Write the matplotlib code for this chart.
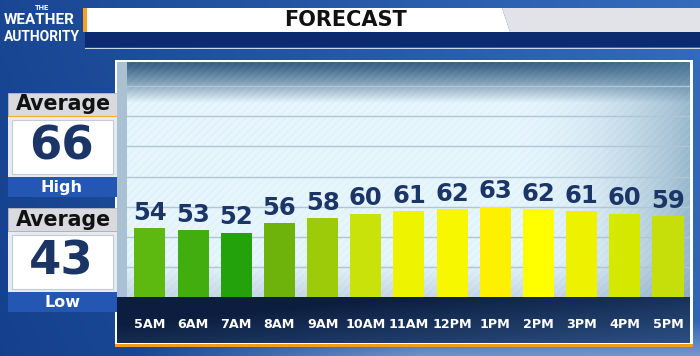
import numpy as np
import matplotlib.pyplot as plt
from matplotlib.patches import Rectangle, Polygon
from matplotlib.transforms import blended_transform_factory

# data
hours = ['5AM', '6AM', '7AM', '8AM', '9AM', '10AM', '11AM',
         '12PM', '1PM', '2PM', '3PM', '4PM', '5PM']
temps = [54, 53, 52, 56, 58, 60, 61, 62, 63, 62, 61, 60, 59]
bar_colors = ['#5db80f', '#42ad0e', '#23a20b', '#6db30b', '#9dcb0a', '#c9e30a',
              '#eef400', '#f7f700', '#fdf000', '#ffff00', '#edf200', '#d5e900', '#c6df0a']
avg_high = 66
avg_low = 43

W, H = 700, 356
NAVY = '#1b3566'

fig = plt.figure(figsize=(7, 3.56), dpi=100)
bg = fig.add_axes([0, 0, 1, 1])
bg.set_xlim(0, W)
bg.set_ylim(H, 0)
bg.axis('off')

# blue backdrop
X, Y = np.meshgrid(np.linspace(0, 1, 350), np.linspace(0, 1, 178))
dark = np.array([0.08, 0.25, 0.55])
light = np.array([0.22, 0.44, 0.76])
t = np.clip(0.75 * X + 0.15 * (1 - Y), 0, 1)[..., None]
img = dark * (1 - t) + light * t
sky = np.clip((Y - 0.9) / 0.1, 0, 1) * np.clip((X - 0.2) / 0.4, 0, 1)
img = img * (1 - 0.6 * sky[..., None]) + np.array([0.62, 0.72, 0.86]) * 0.6 * sky[..., None]
bg.imshow(img, extent=[0, W, H, 0], aspect='auto', zorder=0)

# header
bg.add_patch(Polygon([(87, 8), (502, 8), (510, 32), (87, 32)], closed=True,
                     facecolor='white', edgecolor='none', zorder=2))
bg.add_patch(Polygon([(502, 8), (700, 8), (700, 32), (510, 32)], closed=True,
                     facecolor='#e2e3e8', edgecolor='none', zorder=2))
bg.add_patch(Rectangle((83, 8), 4, 24, facecolor='#f5a020', zorder=3))
bg.add_patch(Rectangle((85, 32), 615, 15, facecolor='#0b2a6f', zorder=2))
bg.add_patch(Rectangle((85, 47.5), 615, 1.2, facecolor='#c9d6ea', zorder=2))
bg.text(345, 20.5, 'FORECAST', ha='center', va='center', fontsize=15,
        fontweight='bold', color='#111111', zorder=4)

# logo
logo_font = ['Roboto', 'DejaVu Sans']
bg.text(42, 7.5, 'THE', ha='center', va='center', fontsize=5.5, fontweight='bold',
        color='white', family=logo_font)
bg.text(39, 20.5, 'WEATHER', ha='center', va='center', fontsize=11,
        fontweight='bold', color='white', family=logo_font)
bg.text(42, 37, 'AUTHORITY', ha='center', va='center', fontsize=10,
        fontweight='bold', color='white', family=logo_font)

# frame around chart
bg.add_patch(Rectangle((115, 60), 578, 286, facecolor='white', zorder=1))
bg.add_patch(Rectangle((117, 62), 10, 235, facecolor='#a9c1d3', zorder=1))
Xs, Ys = np.meshgrid(np.linspace(0, 1, 200), np.linspace(0, 1, 30))
tt = np.clip(0.6 * Xs + 0.5 * Ys - 0.3, 0, 1)[..., None]
strip = np.array([0.05, 0.12, 0.25]) * (1 - tt) + np.array([0.20, 0.36, 0.58]) * tt
bg.imshow(strip, extent=[117, 690, 343, 297], aspect='auto', zorder=1.5)
bg.add_patch(Rectangle((115, 343.5), 578, 3, facecolor='#f39a1c', zorder=2))

# average boxes on the left
def avg_box(top, value, word):
    bg.add_patch(Rectangle((8, top), 109, 23, facecolor='#d9dadd', edgecolor='#b8bcc4',
                           lw=0.6, zorder=2))
    bg.add_patch(Rectangle((8, top + 22.5), 109, 1.5, facecolor='#f0b020', zorder=3))
    bg.text(63, top + 11.5, 'Average', ha='center', va='center', fontsize=14.8,
            fontweight='bold', color='#111111', zorder=4)
    bg.add_patch(Rectangle((8, top + 24), 109, 60, facecolor='#e6ebf1', zorder=2))
    bg.add_patch(Rectangle((12, top + 27), 101, 54, facecolor='white',
                           edgecolor='#c3cbd4', lw=0.8, zorder=2))
    bg.text(61, top + 54, str(value), ha='center', va='center', fontsize=33.5,
            fontweight='bold', color=NAVY, zorder=4)
    bg.add_patch(Rectangle((8, top + 84), 109, 20, facecolor='#2456b4', zorder=2))
    bg.text(62, top + 94.5, word, ha='center', va='center', fontsize=11.5,
            fontweight='bold', color='white', zorder=4)

avg_box(93, avg_high, 'High')
avg_box(208, avg_low, 'Low')

# bar chart panel
ax = fig.add_axes([127 / W, (H - 297) / H, 563 / W, 235 / H])
ax.set_xlim(-0.53, 12.51)
ax.set_ylim(24.7, 124.3)

Xp, Yp = np.meshgrid(np.arange(282), np.arange(118))
top_c = np.array([0.22, 0.38, 0.52])
mid_c = np.array([0.89, 0.95, 0.98])
d = np.clip(Yp / 20.0, 0, 1)[..., None] ** 1.2
panel = top_c * (1 - d) + mid_c * d
low = np.clip((Yp - 100) / 18.0, 0, 1)[..., None]
panel = panel * (1 - 0.4 * low) + np.array([0.55, 0.65, 0.74]) * 0.4 * low
vig = (np.clip((Xp - 190) / 92.0, 0, 1) ** 2)[..., None]
panel = panel * (1 - 0.55 * vig) + np.array([0.35, 0.52, 0.64]) * 0.55 * vig
stripes = ((Xp + Yp) % 4 < 2)[..., None] * 0.02
panel = np.clip(panel + stripes, 0, 1)
ax.imshow(panel, extent=[-0.53, 12.51, 24.7, 124.3], aspect='auto', zorder=0)

ax.set_yticks(np.arange(37.3, 120, 12.8))
ax.grid(axis='y', color='#b0c6d5', linewidth=1.0, zorder=1)
ax.tick_params(length=0, labelleft=False, labelbottom=False)
for s in ax.spines.values():
    s.set_visible(False)

x = np.arange(len(hours))
ax.bar(x, temps, width=0.72, color=bar_colors, zorder=3)
for xi, t_ in zip(x, temps):
    ax.annotate(str(t_), (xi, t_), xytext=(0, 6), textcoords='offset points',
                ha='center', va='baseline', fontsize=17.5, fontweight='bold',
                color=NAVY, zorder=4)

trans = blended_transform_factory(ax.transData, ax.transAxes)
for xi, h in zip(x, hours):
    ax.text(xi, -0.133, h, transform=trans, ha='center', va='baseline',
            fontsize=9.2, fontweight='bold', color='white', clip_on=False)

fig.savefig('out.png', dpi=100)
